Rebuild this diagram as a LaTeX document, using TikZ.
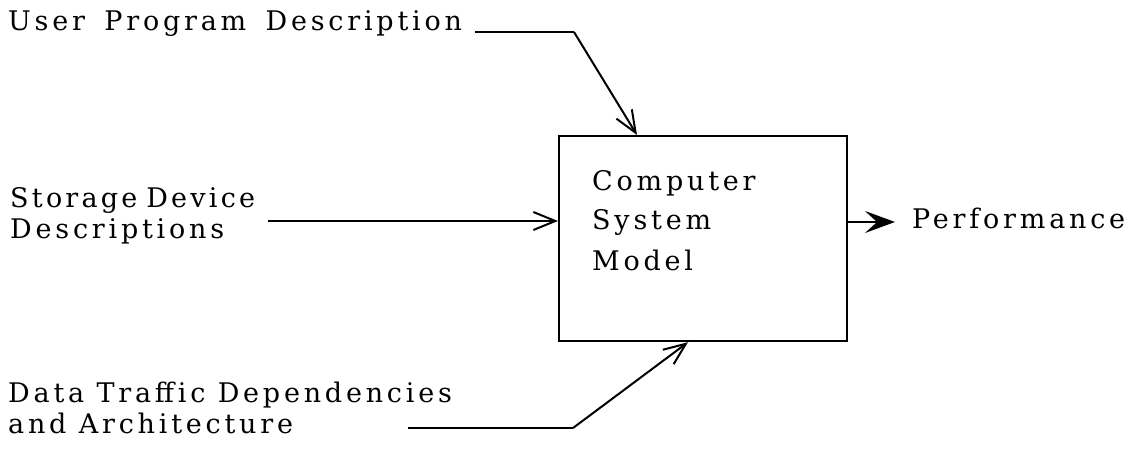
\documentclass[tikz,border=0pt]{standalone}
\usepackage{fontspec}
\setmainfont{DejaVu Serif}[LetterSpace=14]
\usetikzlibrary{arrows.meta}
\begin{document}
\begin{tikzpicture}[x=1pt,y=-1pt,
  lbl/.style={anchor=base west, inner sep=0pt, font=\fontsize{27}{32}\selectfont},
  wire/.style={line width=2pt},
  barb/.style={-{Straight Barb[length=22pt,width=18pt,line width=2pt]}},
  fat/.style={-{Stealth[length=30pt,width=22pt,inset=12pt]}}]
\useasboundingbox (0,0) rectangle (1137,453);

% the model block
\node[draw, line width=2.2pt, minimum width=288pt, minimum height=205pt,
      inner sep=0pt, anchor=north west] (box) at (558,135) {};
\node[lbl] (c1) at (592,190) {Computer};
\node[lbl] (c2) at (592,229) {System};
\node[lbl] (c3) at (592,270) {Model};

% inputs
\node[lbl] (u)  at (8,30)   {User\hspace{7pt} Program\hspace{7pt} Description};
\node[lbl] (s1) at (10,207) {\addfontfeature{LetterSpace=12}Storage\hspace{-3pt} Device};
\node[lbl] (s2) at (10,238) {Descriptions};
\node[lbl] (d1) at (8,402)  {Data Traffic Dependencies};
\node[lbl] (d2) at (8,433)  {and Architecture};

% output
\node[lbl] (perf) at (912,228) {Performance};

% connector points
\coordinate (uA) at (475,32);
\coordinate (uB) at (574,32);
\coordinate (sA) at (268,221);
\coordinate (dA) at (408,428);
\coordinate (dB) at (573,428);
\coordinate (pA) at (895,222);

\draw[wire] (uA) -- (uB);
\draw[wire,barb] (uB) -- ([xshift=79pt]box.north west);
\draw[wire,barb] (sA) -- (sA -| box.west);
\draw[wire] (dA) -- (dB);
\draw[wire,barb] (dB) -- ([xshift=130pt]box.south west);
\draw[wire,fat] (pA -| box.east) -- (pA);
\end{tikzpicture}
\end{document}
